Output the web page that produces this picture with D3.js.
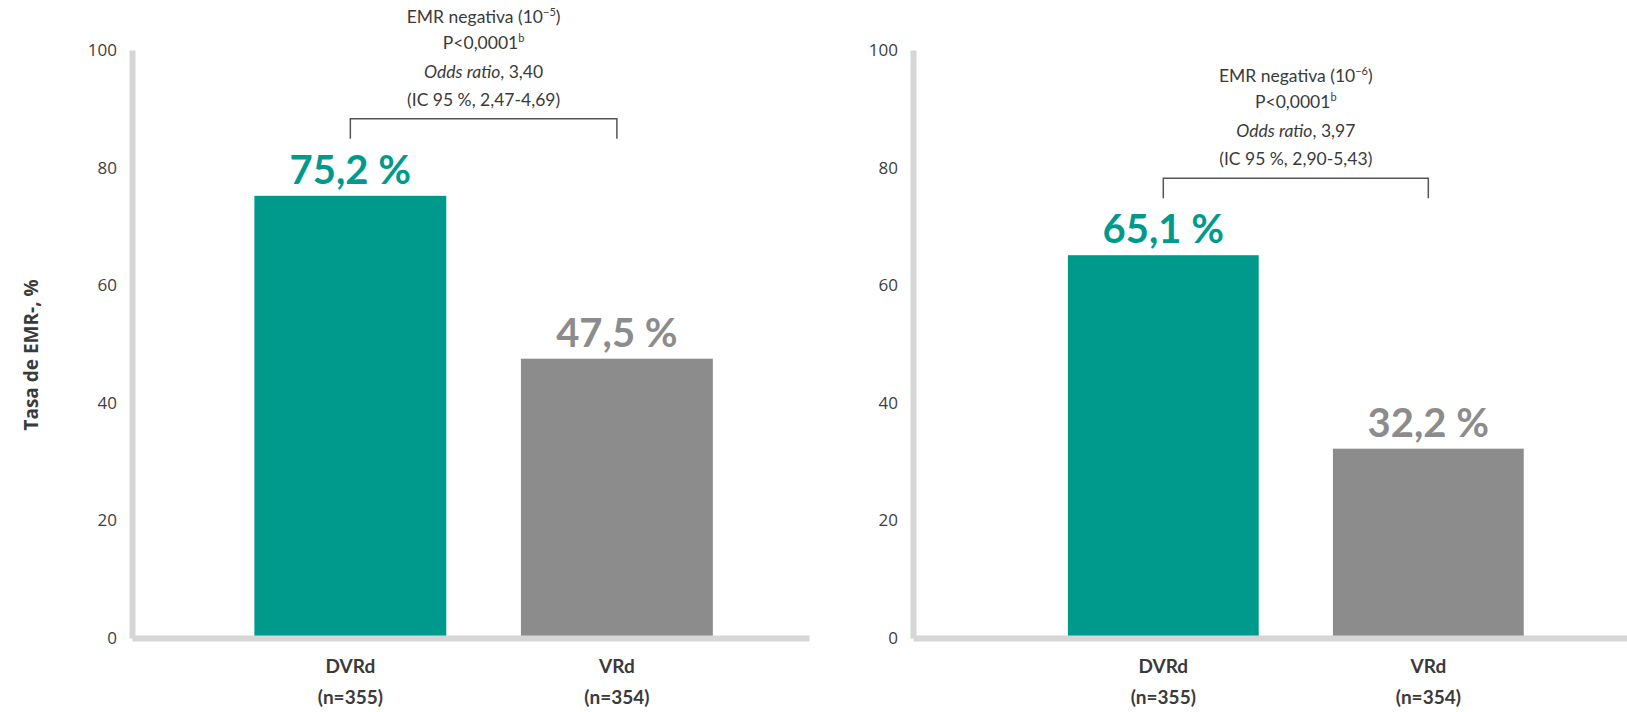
<!DOCTYPE html>
<html>
<head>
<meta charset="utf-8">
<script src="https://cdn.jsdelivr.net/npm/d3@7"></script>
<style>
  html, body { margin: 0; padding: 0; background: #fff; }
  svg { display: block; }
</style>
</head>
<body>
<svg id="chart" width="1627" height="712"></svg>
<script>
// Treatment arms and sample sizes
const categories = ["DVRd", "VRd"];
const sampleSizes = ["(n=355)", "(n=354)"];

// MRD-negativity rates (%) at the two sensitivity thresholds
const ratesPanel1 = [75.2, 47.5];   // 10^-5
const ratesPanel2 = [65.1, 32.2];   // 10^-6

// Y-axis tick values
const yTicks = [0, 20, 40, 60, 80, 100];

// Statistical annotation per panel
const thresholdExp = ["\u22125", "\u22126"];
const pValues = ["P<0,0001", "P<0,0001"];
const oddsRatios = ["3,40", "3,97"];
const confIntervals = ["(IC 95 %, 2,47-4,69)", "(IC 95 %, 2,90-5,43)"];

const fmt = v => d3.format(".1f")(v).replace(".", ",") + " %";

const svg = d3.select("#chart");
const teal = "#009a8d", grey = "#8c8c8c", axisGrey = "#d6d6d6", textDark = "#3a3a3a";

const y = d3.scaleLinear().domain([0, 100]).range([638, 50]);

const panels = [
  { rates: ratesPanel1, x0: 132, x1: 809, po: 0.41, align: 0.56, idx: 0 },
  { rates: ratesPanel2, x0: 913, x1: 1627, po: 0.487, align: 0.60, idx: 1 }
];

panels.forEach(p => {
  const g = svg.append("g");
  const x = d3.scaleBand().domain(categories).range([p.x0, p.x1])
    .paddingInner(0.28).paddingOuter(p.po).align(p.align);

  // y axis
  const ya = g.append("g").attr("transform", `translate(${p.x0},0)`)
    .call(d3.axisLeft(y).tickValues(yTicks).tickSize(0).tickSizeOuter(0).tickPadding(15));
  ya.select(".domain").attr("stroke", axisGrey).attr("stroke-width", 6);
  ya.selectAll("text").attr("fill", "#404040")
    .style("font-family", "'Open Sans', sans-serif").style("font-size", "17px");

  // bars
  g.selectAll("rect.bar").data(p.rates).join("rect")
    .attr("class", "bar")
    .attr("x", (d, i) => x(categories[i]))
    .attr("width", x.bandwidth())
    .attr("y", d => y(d))
    .attr("height", d => y(0) - y(d))
    .attr("fill", (d, i) => i === 0 ? teal : grey);

  // x axis
  const xa = g.append("g").attr("transform", `translate(0,${y(0)})`)
    .call(d3.axisBottom(x).tickSize(0).tickSizeOuter(0).tickPadding(0));
  xa.select(".domain").attr("stroke", axisGrey).attr("stroke-width", 6);
  xa.selectAll(".tick text").each(function(d, i) {
    const t = d3.select(this).text(null).attr("y", 0).attr("dy", null)
      .attr("fill", textDark)
      .style("font-family", "Lato, sans-serif").style("font-size", "19px").style("font-weight", "700");
    t.append("tspan").attr("x", 0).attr("y", 35).text(d);
    t.append("tspan").attr("x", 0).attr("y", 66).text(sampleSizes[i]);
  });

  // value labels
  g.selectAll("text.val").data(p.rates).join("text")
    .attr("class", "val")
    .attr("x", (d, i) => x(categories[i]) + x.bandwidth() / 2)
    .attr("y", d => y(d) - 12)
    .attr("text-anchor", "middle")
    .attr("fill", (d, i) => i === 0 ? teal : grey)
    .style("font-family", "Lato, sans-serif").style("font-size", "40px").style("font-weight", "700")
    .text(d => fmt(d));

  // comparison bracket
  const cx0 = x(categories[0]) + x.bandwidth() / 2;
  const cx1 = x(categories[1]) + x.bandwidth() / 2;
  const by = y(d3.max(p.rates)) - 77;
  g.append("path")
    .attr("d", `M${cx0},${by + 20}V${by}H${cx1}V${by + 20}`)
    .attr("fill", "none").attr("stroke", "#555").attr("stroke-width", 1.5);

  // statistics block
  const cx = (cx0 + cx1) / 2;
  const tg = g.append("g").attr("text-anchor", "middle").attr("fill", textDark)
    .style("font-family", "Lato, sans-serif").style("font-size", "17.5px");
  const l1 = tg.append("text").attr("x", cx).attr("y", by - 96);
  l1.append("tspan").text("EMR negativa (10");
  l1.append("tspan").attr("dy", -7).style("font-size", "11px").text(thresholdExp[p.idx]);
  l1.append("tspan").attr("dy", 7).text(")");
  const l2 = tg.append("text").attr("x", cx).attr("y", by - 70);
  l2.append("tspan").text(pValues[p.idx]);
  l2.append("tspan").attr("dy", -7).style("font-size", "11px").text("b");
  const l3 = tg.append("text").attr("x", cx).attr("y", by - 41);
  l3.append("tspan").style("font-style", "italic").text("Odds ratio");
  l3.append("tspan").text(", " + oddsRatios[p.idx]);
  tg.append("text").attr("x", cx).attr("y", by - 13).text(confIntervals[p.idx]);
});

// y-axis title
svg.append("text")
  .attr("transform", "translate(38,355) rotate(-90)")
  .attr("text-anchor", "middle")
  .attr("fill", textDark)
  .style("font-family", "'Open Sans', sans-serif").style("font-size", "19px").style("font-weight", "700")
  .text("Tasa de EMR-, %");
</script>
</body>
</html>
